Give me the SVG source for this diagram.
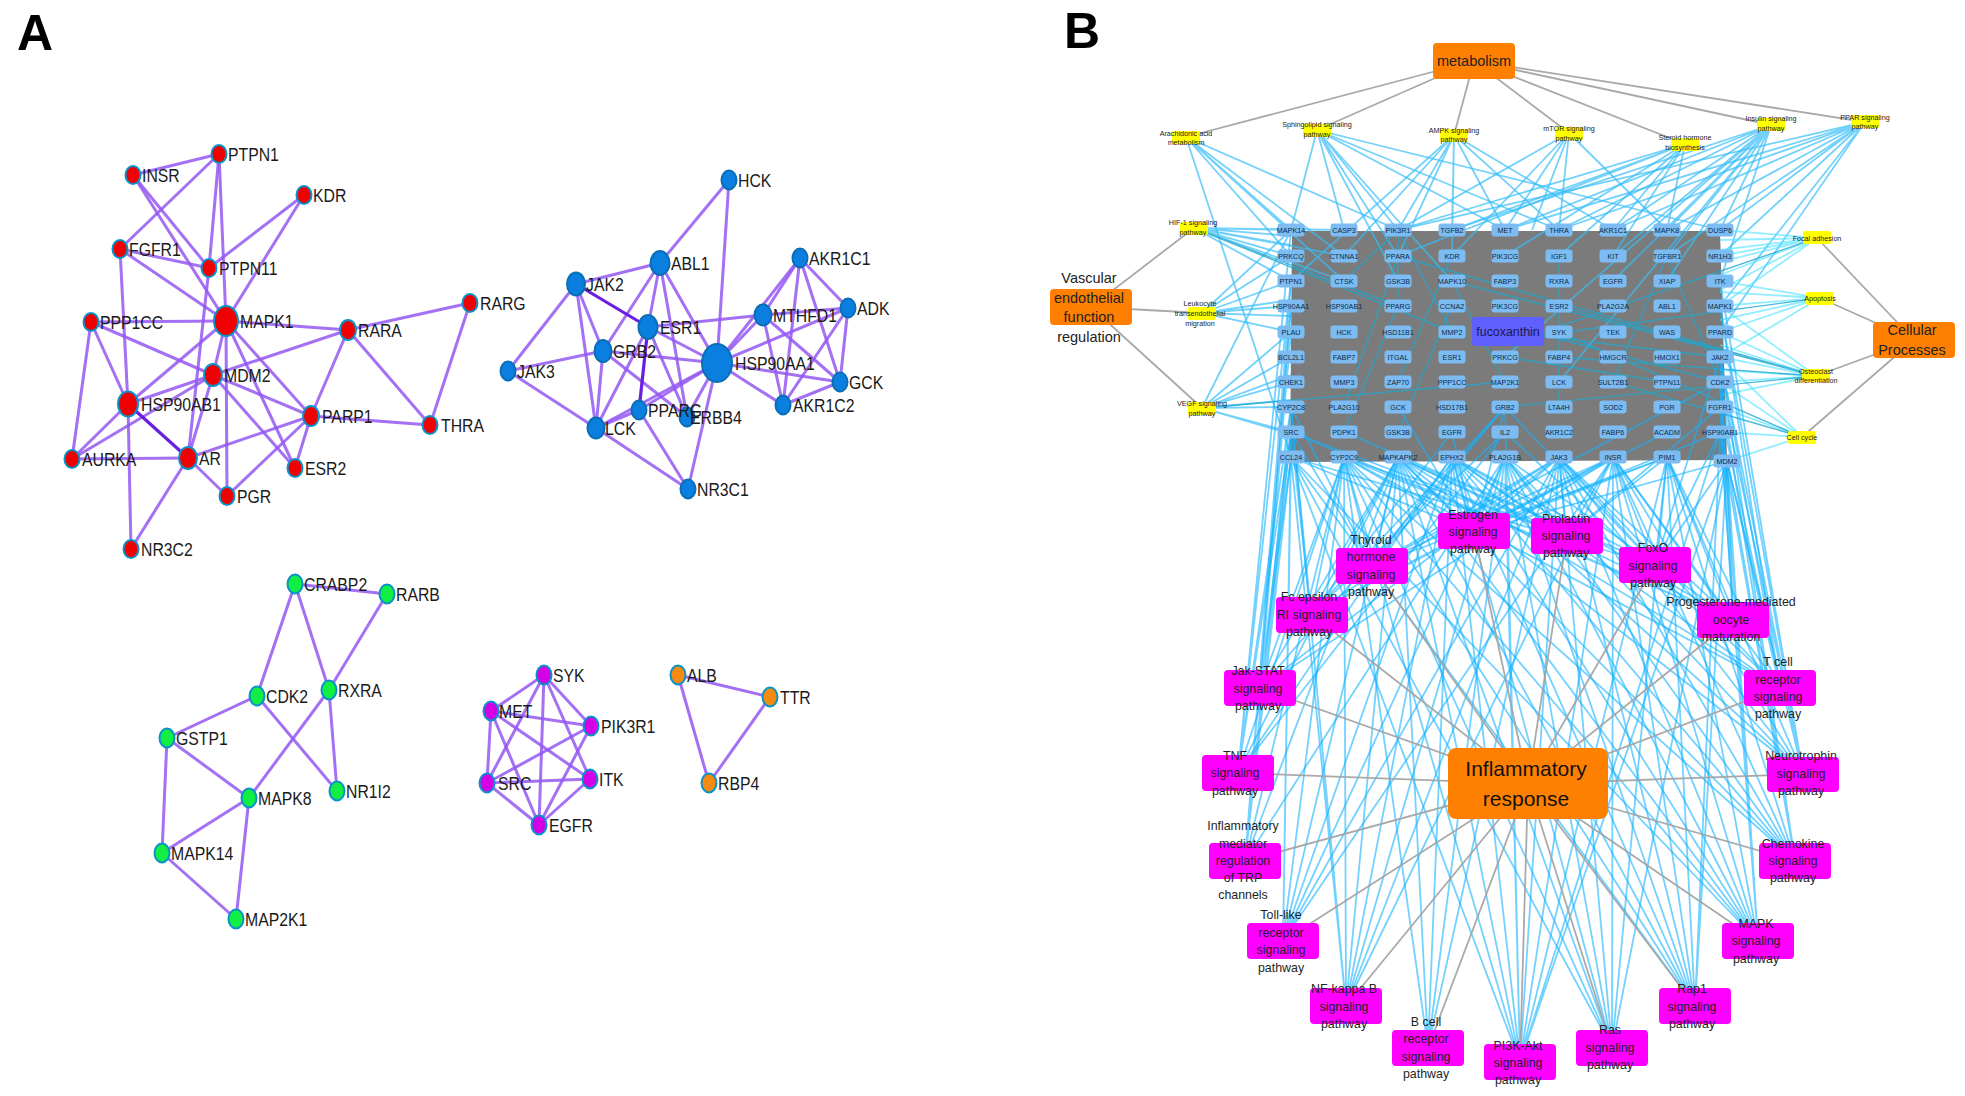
<svg xmlns="http://www.w3.org/2000/svg" width="1965" height="1096" viewBox="0 0 1965 1096">
<style>
text{font-family:"Liberation Sans",Arial,sans-serif;dominant-baseline:central;fill:#1a1a1a}
.panel{font-size:50px;font-weight:bold;fill:#000;dominant-baseline:auto}
#edgesA line{stroke:#9457f2;stroke-width:3;stroke-opacity:.85}
#edgesA line.d{stroke:#6a1fe0;stroke-width:3.2;stroke-opacity:1}
.an ellipse{stroke:#0a93c8;stroke-width:2}
.an text{font-size:15.8px;transform:scale(1,1.2)}
.r ellipse{fill:#f00000}.b ellipse{fill:#0a7fe0;stroke:#0a6fb5}.v ellipse{fill:#12ee44}.m ellipse{fill:#d400e6}.o ellipse{fill:#f58a10}
#edgesB path{fill:none;stroke-width:1.8}
#edgesB path.in{stroke-width:1.4}
.lb{stroke:#14b2ff;stroke-opacity:.6}
.tp{stroke:#38bdf8;stroke-opacity:.7}
.cy{stroke:#4fe3ff;stroke-opacity:.62}
.in{stroke:#1fa8d0;stroke-opacity:.8}
.gy{stroke:#a4a4a4;stroke-opacity:.95}
.gene rect{fill:#7cbcf2}
.gene text{font-size:7.2px;text-anchor:middle;fill:#0f2a44}
.yl rect{fill:#ffff00}
.yl text{font-size:7.2px;text-anchor:middle;fill:#222}
.pw rect{fill:#ff00ff}
.pw text{font-size:12.4px;text-anchor:middle;fill:#1f1f1f}
.hub rect{fill:#ff8000}
.hub text{font-size:14.5px;text-anchor:middle;fill:#222}
</style>
<rect width="1965" height="1096" fill="#fff"/>
<text class="panel" x="17" y="50">A</text>
<text class="panel" x="1064" y="48">B</text>

<g id="edgesA">
<line x1="219" y1="154" x2="133" y2="175"/><line x1="219" y1="154" x2="120" y2="249"/><line x1="219" y1="154" x2="209" y2="268"/><line x1="219" y1="154" x2="226" y2="321"/>
<line x1="133" y1="175" x2="209" y2="268"/><line x1="133" y1="175" x2="226" y2="321"/><line x1="304" y1="195" x2="209" y2="268"/><line x1="304" y1="195" x2="226" y2="321"/>
<line x1="120" y1="249" x2="209" y2="268"/><line x1="120" y1="249" x2="226" y2="321"/><line x1="120" y1="249" x2="128" y2="404"/><line x1="209" y1="268" x2="188" y2="458"/>
<line x1="91" y1="322" x2="226" y2="321"/><line x1="91" y1="322" x2="213" y2="375"/><line x1="91" y1="322" x2="128" y2="404"/><line x1="91" y1="322" x2="72" y2="459"/>
<line x1="226" y1="321" x2="348" y2="330"/><line x1="226" y1="321" x2="213" y2="375"/><line x1="226" y1="321" x2="128" y2="404"/><line x1="226" y1="321" x2="311" y2="416"/><line x1="226" y1="321" x2="295" y2="468"/><line x1="226" y1="321" x2="227" y2="496"/>
<line x1="213" y1="375" x2="348" y2="330"/><line x1="213" y1="375" x2="128" y2="404"/><line x1="213" y1="375" x2="311" y2="416"/><line x1="213" y1="375" x2="295" y2="468"/><line x1="213" y1="375" x2="188" y2="458"/><line x1="213" y1="375" x2="72" y2="459"/>
<line x1="128" y1="404" x2="72" y2="459"/><line class="d" x1="128" y1="404" x2="188" y2="458"/><line x1="128" y1="404" x2="131" y2="549"/>
<line x1="72" y1="459" x2="188" y2="458"/><line x1="188" y1="458" x2="311" y2="416"/><line x1="188" y1="458" x2="227" y2="496"/><line x1="188" y1="458" x2="131" y2="549"/>
<line x1="311" y1="416" x2="348" y2="330"/><line x1="311" y1="416" x2="430" y2="425"/><line x1="311" y1="416" x2="295" y2="468"/><line x1="311" y1="416" x2="227" y2="496"/>
<line x1="348" y1="330" x2="470" y2="303"/><line x1="348" y1="330" x2="430" y2="425"/><line x1="470" y1="303" x2="430" y2="425"/>

<line x1="729" y1="180" x2="660" y2="263"/><line x1="729" y1="180" x2="717" y2="363"/><line x1="660" y1="263" x2="576" y2="284"/><line x1="660" y1="263" x2="648" y2="327"/><line x1="660" y1="263" x2="603" y2="351"/><line x1="660" y1="263" x2="717" y2="363"/><line x1="660" y1="263" x2="687" y2="417"/>
<line class="d" x1="576" y1="284" x2="648" y2="327"/><line x1="576" y1="284" x2="603" y2="351"/><line x1="576" y1="284" x2="508" y2="371"/><line x1="576" y1="284" x2="596" y2="428"/>
<line x1="603" y1="351" x2="508" y2="371"/><line x1="603" y1="351" x2="596" y2="428"/><line x1="603" y1="351" x2="717" y2="363"/><line x1="603" y1="351" x2="687" y2="417"/><line x1="508" y1="371" x2="596" y2="428"/>
<line x1="648" y1="327" x2="717" y2="363"/><line x1="648" y1="327" x2="763" y2="315"/><line class="d" x1="648" y1="327" x2="639" y2="410"/><line x1="648" y1="327" x2="596" y2="428"/><line x1="648" y1="327" x2="687" y2="417"/>
<line x1="717" y1="363" x2="639" y2="410"/><line x1="717" y1="363" x2="596" y2="428"/><line x1="717" y1="363" x2="687" y2="417"/><line x1="717" y1="363" x2="688" y2="489"/><line x1="717" y1="363" x2="763" y2="315"/><line x1="717" y1="363" x2="800" y2="258"/><line x1="717" y1="363" x2="848" y2="308"/><line x1="717" y1="363" x2="840" y2="382"/><line x1="717" y1="363" x2="783" y2="405"/>
<line x1="596" y1="428" x2="639" y2="410"/><line x1="596" y1="428" x2="688" y2="489"/><line x1="639" y1="410" x2="688" y2="489"/>
<line x1="800" y1="258" x2="763" y2="315"/><line x1="800" y1="258" x2="848" y2="308"/><line x1="800" y1="258" x2="840" y2="382"/><line x1="800" y1="258" x2="783" y2="405"/><line x1="763" y1="315" x2="848" y2="308"/><line x1="763" y1="315" x2="840" y2="382"/><line x1="763" y1="315" x2="783" y2="405"/><line x1="848" y1="308" x2="840" y2="382"/><line x1="848" y1="308" x2="783" y2="405"/><line x1="840" y1="382" x2="783" y2="405"/>

<line x1="295" y1="584" x2="387" y2="594"/><line x1="295" y1="584" x2="257" y2="696"/><line x1="295" y1="584" x2="329" y2="690"/><line x1="387" y1="594" x2="329" y2="690"/><line x1="257" y1="696" x2="167" y2="738"/><line x1="257" y1="696" x2="337" y2="791"/><line x1="329" y1="690" x2="337" y2="791"/><line x1="329" y1="690" x2="249" y2="798"/><line x1="167" y1="738" x2="249" y2="798"/><line x1="167" y1="738" x2="162" y2="853"/><line x1="249" y1="798" x2="162" y2="853"/><line x1="249" y1="798" x2="236" y2="919"/><line x1="162" y1="853" x2="236" y2="919"/>
<line x1="544" y1="675" x2="491" y2="711"/><line x1="544" y1="675" x2="591" y2="726"/><line x1="544" y1="675" x2="487" y2="783"/><line x1="544" y1="675" x2="590" y2="779"/><line x1="544" y1="675" x2="539" y2="825"/><line x1="491" y1="711" x2="591" y2="726"/><line x1="491" y1="711" x2="487" y2="783"/><line x1="491" y1="711" x2="590" y2="779"/><line x1="491" y1="711" x2="539" y2="825"/><line x1="591" y1="726" x2="487" y2="783"/><line x1="591" y1="726" x2="539" y2="825"/><line x1="487" y1="783" x2="590" y2="779"/><line x1="487" y1="783" x2="539" y2="825"/><line x1="590" y1="779" x2="539" y2="825"/>
<line x1="678" y1="675" x2="770" y2="697"/><line x1="678" y1="675" x2="709" y2="783"/><line x1="770" y1="697" x2="709" y2="783"/>
</g>

<g id="nodesA">
<g id="a-PTPN1" class="an r" transform="translate(219 154)"><ellipse rx="7.5" ry="9"/><text x="9">PTPN1</text></g>
<g id="a-INSR" class="an r" transform="translate(133 175)"><ellipse rx="7.5" ry="9"/><text x="9">INSR</text></g>
<g id="a-KDR" class="an r" transform="translate(304 195)"><ellipse rx="7.5" ry="9"/><text x="9">KDR</text></g>
<g id="a-FGFR1" class="an r" transform="translate(120 249)"><ellipse rx="7.5" ry="9"/><text x="9">FGFR1</text></g>
<g id="a-PTPN11" class="an r" transform="translate(209 268)"><ellipse rx="7.5" ry="9"/><text x="10">PTPN11</text></g>
<g id="a-MAPK1" class="an r" transform="translate(226 321)"><ellipse rx="12" ry="15"/><text x="14">MAPK1</text></g>
<g id="a-PPP1CC" class="an r" transform="translate(91 322)"><ellipse rx="7.5" ry="9"/><text x="9">PPP1CC</text></g>
<g id="a-RARA" class="an r" transform="translate(348 330)"><ellipse rx="8" ry="10"/><text x="10">RARA</text></g>
<g id="a-RARG" class="an r" transform="translate(470 303)"><ellipse rx="7.5" ry="9"/><text x="10">RARG</text></g>
<g id="a-MDM2" class="an r" transform="translate(213 375)"><ellipse rx="9" ry="11"/><text x="11">MDM2</text></g>
<g id="a-HSP90AB1" class="an r" transform="translate(128 404)"><ellipse rx="10" ry="12.5"/><text x="13">HSP90AB1</text></g>
<g id="a-PARP1" class="an r" transform="translate(311 416)"><ellipse rx="8" ry="10"/><text x="11">PARP1</text></g>
<g id="a-THRA" class="an r" transform="translate(430 425)"><ellipse rx="7.5" ry="9"/><text x="11">THRA</text></g>
<g id="a-AURKA" class="an r" transform="translate(72 459)"><ellipse rx="7.5" ry="9"/><text x="10">AURKA</text></g>
<g id="a-AR" class="an r" transform="translate(188 458)"><ellipse rx="9" ry="11"/><text x="11">AR</text></g>
<g id="a-ESR2" class="an r" transform="translate(295 468)"><ellipse rx="7.5" ry="9"/><text x="10">ESR2</text></g>
<g id="a-PGR" class="an r" transform="translate(227 496)"><ellipse rx="7.5" ry="9"/><text x="10">PGR</text></g>
<g id="a-NR3C2" class="an r" transform="translate(131 549)"><ellipse rx="7.5" ry="9"/><text x="10">NR3C2</text></g>

<g id="a-HCK" class="an b" transform="translate(729 180)"><ellipse rx="7.5" ry="9.5"/><text x="9">HCK</text></g>
<g id="a-ABL1" class="an b" transform="translate(660 263)"><ellipse rx="9.5" ry="12"/><text x="11">ABL1</text></g>
<g id="a-JAK2" class="an b" transform="translate(576 284)"><ellipse rx="9" ry="11.5"/><text x="10">JAK2</text></g>
<g id="a-AKR1C1" class="an b" transform="translate(800 258)"><ellipse rx="7.5" ry="9.5"/><text x="9">AKR1C1</text></g>
<g id="a-ADK" class="an b" transform="translate(848 308)"><ellipse rx="7.5" ry="9.5"/><text x="9">ADK</text></g>
<g id="a-MTHFD1" class="an b" transform="translate(763 315)"><ellipse rx="8.5" ry="10.5"/><text x="10">MTHFD1</text></g>
<g id="a-ESR1" class="an b" transform="translate(648 327)"><ellipse rx="9.5" ry="12"/><text x="12">ESR1</text></g>
<g id="a-GRB2" class="an b" transform="translate(603 351)"><ellipse rx="8.5" ry="11"/><text x="10">GRB2</text></g>
<g id="a-JAK3" class="an b" transform="translate(508 371)"><ellipse rx="7.5" ry="9.5"/><text x="9">JAK3</text></g>
<g id="a-HSP90AA1" class="an b" transform="translate(717 363)"><ellipse rx="15" ry="19"/><text x="18">HSP90AA1</text></g>
<g id="a-ERBB4" class="an b" transform="translate(687 417)"><ellipse rx="7.5" ry="9.5"/><text x="3">ERBB4</text></g>
<g id="a-PPARG" class="an b" transform="translate(639 410)"><ellipse rx="7.5" ry="9.5"/><text x="9">PPARG</text></g>
<g id="a-LCK" class="an b" transform="translate(596 428)"><ellipse rx="8.5" ry="10.5"/><text x="9">LCK</text></g>
<g id="a-AKR1C2" class="an b" transform="translate(783 405)"><ellipse rx="7.5" ry="9.5"/><text x="10">AKR1C2</text></g>
<g id="a-GCK" class="an b" transform="translate(840 382)"><ellipse rx="7.5" ry="9.5"/><text x="9">GCK</text></g>
<g id="a-NR3C1" class="an b" transform="translate(688 489)"><ellipse rx="7.5" ry="9.5"/><text x="9">NR3C1</text></g>

<g id="a-CRABP2" class="an v" transform="translate(295 584)"><ellipse rx="7.5" ry="9.5"/><text x="9">CRABP2</text></g>
<g id="a-RARB" class="an v" transform="translate(387 594)"><ellipse rx="7.5" ry="9.5"/><text x="9">RARB</text></g>
<g id="a-CDK2" class="an v" transform="translate(257 696)"><ellipse rx="7.5" ry="9.5"/><text x="9">CDK2</text></g>
<g id="a-RXRA" class="an v" transform="translate(329 690)"><ellipse rx="7.5" ry="9.5"/><text x="9">RXRA</text></g>
<g id="a-GSTP1" class="an v" transform="translate(167 738)"><ellipse rx="7.5" ry="9.5"/><text x="9">GSTP1</text></g>
<g id="a-MAPK8" class="an v" transform="translate(249 798)"><ellipse rx="7.5" ry="9.5"/><text x="9">MAPK8</text></g>
<g id="a-NR1I2" class="an v" transform="translate(337 791)"><ellipse rx="7.5" ry="9.5"/><text x="9">NR1I2</text></g>
<g id="a-MAPK14" class="an v" transform="translate(162 853)"><ellipse rx="7.5" ry="9.5"/><text x="9">MAPK14</text></g>
<g id="a-MAP2K1" class="an v" transform="translate(236 919)"><ellipse rx="7.5" ry="9.5"/><text x="9">MAP2K1</text></g>

<g id="a-SYK" class="an m" transform="translate(544 675)"><ellipse rx="7.5" ry="9.5"/><text x="9">SYK</text></g>
<g id="a-MET" class="an m" transform="translate(491 711)"><ellipse rx="7.5" ry="9.5"/><text x="8">MET</text></g>
<g id="a-PIK3R1" class="an m" transform="translate(591 726)"><ellipse rx="7.5" ry="9.5"/><text x="10">PIK3R1</text></g>
<g id="a-SRC" class="an m" transform="translate(487 783)"><ellipse rx="7.5" ry="9.5"/><text x="11">SRC</text></g>
<g id="a-ITK" class="an m" transform="translate(590 779)"><ellipse rx="7.5" ry="9.5"/><text x="9">ITK</text></g>
<g id="a-EGFR" class="an m" transform="translate(539 825)"><ellipse rx="7.5" ry="9.5"/><text x="10">EGFR</text></g>
<g id="a-ALB" class="an o" transform="translate(678 675)"><ellipse rx="7.5" ry="9.5"/><text x="9">ALB</text></g>
<g id="a-TTR" class="an o" transform="translate(770 697)"><ellipse rx="7.5" ry="9.5"/><text x="10">TTR</text></g>
<g id="a-RBP4" class="an o" transform="translate(709 783)"><ellipse rx="7.5" ry="9.5"/><text x="9">RBP4</text></g>
</g>

<polygon id="gene-block" points="1292,231 1720,231 1727,460 1290,462" fill="#7b7b7b"/>

<g id="edgesB">
<path class="tp" d="M1186 137L1291 230M1186 137L1291 256M1186 137L1291 457M1186 137L1344 256M1186 137L1344 281M1186 137L1398 230"/>
<path class="tp" d="M1317 130L1291 230M1317 130L1344 230M1317 130L1398 230M1317 130L1398 256M1317 130L1398 281M1317 130L1452 281M1317 130L1505 230M1317 130L1559 230M1317 130L1720 230"/>
<path class="tp" d="M1454 135L1398 230M1454 135L1398 256M1454 135L1452 230M1454 135L1452 256M1454 135L1505 230M1454 135L1559 230M1454 135L1613 230M1454 135L1344 256M1454 135L1291 281"/>
<path class="tp" d="M1569 133L1398 230M1569 133L1505 230M1569 133L1532 230M1569 133L1559 230M1569 133L1667 230M1569 133L1452 256"/>
<path class="tp" d="M1685 144L1398 230M1685 144L1452 230M1685 144L1505 256M1685 144L1613 230M1685 144L1613 256M1685 144L1667 230M1685 144L1559 256M1685 144L1398 256"/>
<path class="tp" d="M1771 125L1505 230M1771 125L1559 230M1771 125L1613 230M1771 125L1613 256M1771 125L1667 230M1771 125L1667 256M1771 125L1667 281M1771 125L1720 230M1771 125L1720 281M1771 125L1613 281M1771 125L1452 230M1771 125L1559 382M1771 125L1505 357"/>
<path class="tp" d="M1865 122L1398 230M1865 122L1559 230M1865 122L1613 230M1865 122L1667 230M1865 122L1720 230M1865 122L1720 256M1865 122L1720 306M1865 122L1720 332M1865 122L1667 256M1865 122L1505 230"/>
<path class="cy" d="M1817 238L1720 230M1817 238L1720 240M1817 238L1720 250M1817 238L1720 256M1817 238L1720 262M1817 238L1720 275M1817 238L1720 290M1817 238L1720 306"/>
<path class="cy" d="M1820 298L1720 281M1820 298L1720 292M1820 298L1720 306M1820 298L1720 320M1820 298L1720 332M1820 298L1720 357"/>
<path class="cy" d="M1816 376L1720 306M1816 376L1720 332M1816 376L1720 345M1816 376L1720 357M1816 376L1720 370M1816 376L1720 382M1816 376L1720 395"/>
<path class="cy" d="M1802 437L1720 357M1802 437L1720 382M1802 437L1720 407M1802 437L1720 432M1802 437L1727 461"/>
<path class="tp" d="M1194 228L1291 230M1194 228L1291 236M1194 228L1291 245M1194 228L1291 256M1194 228L1291 281M1194 228L1344 281M1194 228L1344 256M1194 228L1344 230"/>
<path class="tp" d="M1202 313L1291 230M1202 313L1291 256M1202 313L1291 281M1202 313L1291 300M1202 313L1291 306M1202 313L1291 316M1202 313L1291 332"/>
<path class="tp" d="M1202 408L1291 230M1202 408L1291 332M1202 408L1291 357M1202 408L1291 375M1202 408L1291 382M1202 408L1291 400M1202 408L1291 407M1202 408L1291 432M1202 408L1291 434"/>
<path class="in" d="M1202 408L1505 382M1816 376L1505 407M1816 376L1398 256M1816 376L1452 281M1816 376L1559 306M1816 376L1559 357M1802 437L1559 332M1802 437L1613 382M1820 298L1544 335M1817 238L1505 345M1194 228L1452 332M1194 228L1398 306M1505 332L1720 357M1544 335L1720 382M1505 357L1667 382M1398 230L1344 281M1398 230L1398 306M1398 230L1452 332M1398 256L1344 407M1452 256L1398 382M1452 281L1505 382M1667 256L1613 382M1667 256L1720 382M1559 256L1559 407M1398 306L1344 432M1452 306L1398 432"/>
<path class="lb" d="M1474 532L1291 457M1474 532L1344 457M1474 532L1398 457M1474 532L1452 457M1474 532L1505 457M1474 532L1559 457M1474 532L1613 457M1474 532L1667 457M1474 532L1720 432M1474 532L1505 407M1474 532L1398 407M1474 532L1452 432M1474 532L1727 461"/>
<path class="lb" d="M1567 536L1344 457M1567 536L1398 457M1567 536L1452 457M1567 536L1505 457M1567 536L1559 457M1567 536L1613 457M1567 536L1667 457M1567 536L1720 407M1567 536L1291 432"/>
<path class="lb" d="M1372 566L1291 407M1372 566L1344 457M1372 566L1398 457M1372 566L1452 457M1372 566L1505 407M1372 566L1559 457M1372 566L1613 457M1372 566L1667 457M1372 566L1720 382M1372 566L1291 432"/>
<path class="lb" d="M1655 565L1291 457M1655 565L1344 432M1655 565L1398 457M1655 565L1452 457M1655 565L1505 407M1655 565L1559 457M1655 565L1613 457M1655 565L1667 457M1655 565L1720 432M1655 565L1727 461M1655 565L1720 357"/>
<path class="lb" d="M1311 614L1291 407M1311 614L1291 432M1311 614L1344 457M1311 614L1398 457M1311 614L1452 432M1311 614L1505 407M1311 614L1505 432M1311 614L1559 457M1311 614L1613 457M1311 614L1667 432"/>
<path class="lb" d="M1733 620L1720 357M1733 620L1720 382M1733 620L1720 407M1733 620L1727 461M1733 620L1667 457M1733 620L1613 457M1733 620L1559 457M1733 620L1505 457M1733 620L1452 457M1733 620L1398 457M1733 620L1344 457M1733 620L1291 432"/>
<path class="lb" d="M1260 688L1291 306M1260 688L1291 332M1260 688L1291 432M1260 688L1291 457M1260 688L1344 457M1260 688L1398 457M1260 688L1505 407M1260 688L1559 457M1260 688L1613 457"/>
<path class="lb" d="M1780 688L1720 306M1780 688L1720 407M1780 688L1727 461M1780 688L1667 457M1780 688L1613 457M1780 688L1559 457M1780 688L1505 432M1780 688L1452 457M1780 688L1398 457M1780 688L1344 457M1780 688L1720 357"/>
<path class="lb" d="M1238 773L1291 230M1238 773L1291 281M1238 773L1291 407M1238 773L1291 432M1238 773L1344 457M1238 773L1398 457M1238 773L1452 457M1238 773L1505 432"/>
<path class="lb" d="M1803 774L1720 281M1803 774L1720 306M1803 774L1720 357M1803 774L1720 382M1803 774L1727 461M1803 774L1667 457M1803 774L1613 457M1803 774L1559 457M1803 774L1505 457M1803 774L1452 457M1803 774L1398 457"/>
<path class="lb" d="M1245 861L1291 281M1245 861L1291 306M1245 861L1291 407M1245 861L1291 432M1245 861L1291 457M1245 861L1344 457M1245 861L1398 457M1245 861L1505 457"/>
<path class="lb" d="M1795 861L1720 357M1795 861L1720 382M1795 861L1720 432M1795 861L1727 461M1795 861L1667 457M1795 861L1613 457M1795 861L1559 457M1795 861L1505 457M1795 861L1452 457M1795 861L1398 457M1795 861L1344 457"/>
<path class="lb" d="M1283 941L1291 457M1283 941L1291 432M1283 941L1344 457M1283 941L1398 457M1283 941L1452 457M1283 941L1505 457M1283 941L1559 457M1283 941L1613 457"/>
<path class="lb" d="M1758 941L1720 382M1758 941L1727 461M1758 941L1667 457M1758 941L1613 457M1758 941L1559 457M1758 941L1505 457M1758 941L1452 457M1758 941L1398 457M1758 941L1344 457M1758 941L1291 457M1758 941L1720 432"/>
<path class="lb" d="M1346 1006L1291 407M1346 1006L1291 457M1346 1006L1344 457M1346 1006L1398 457M1346 1006L1452 457M1346 1006L1505 457M1346 1006L1559 457M1346 1006L1613 457"/>
<path class="lb" d="M1695 1006L1720 432M1695 1006L1667 457M1695 1006L1613 457M1695 1006L1559 457M1695 1006L1505 457M1695 1006L1452 457M1695 1006L1398 457M1695 1006L1344 457M1695 1006L1291 457M1695 1006L1727 461"/>
<path class="lb" d="M1428 1048L1344 457M1428 1048L1398 457M1428 1048L1452 457M1428 1048L1505 457M1428 1048L1559 457"/>
<path class="lb" d="M1612 1048L1291 457M1612 1048L1344 457M1612 1048L1398 457M1612 1048L1452 457M1612 1048L1505 457M1612 1048L1559 457M1612 1048L1613 457M1612 1048L1667 457M1612 1048L1727 461"/>
<path class="lb" d="M1520 1062L1291 457M1520 1062L1344 457M1520 1062L1398 457M1520 1062L1452 457M1520 1062L1505 457M1520 1062L1505 407M1520 1062L1559 457M1520 1062L1613 457M1520 1062L1667 457M1520 1062L1727 461M1520 1062L1720 432"/>
<path class="gy" d="M1474 61L1186 137M1474 61L1317 130M1474 61L1454 135M1474 61L1569 133M1474 61L1685 144M1474 61L1771 125M1474 61L1865 122"/>
<path class="gy" d="M1091 307L1194 228M1091 307L1202 313M1091 307L1202 408M1914 340L1817 238M1914 340L1820 298M1914 340L1816 376M1914 340L1802 437"/>
<path class="gy" d="M1528 784L1372 566M1528 784L1474 532M1528 784L1567 536M1528 784L1655 565M1528 784L1311 614M1528 784L1733 620M1528 784L1260 688M1528 784L1780 688M1528 784L1238 773M1528 784L1803 774M1528 784L1245 861M1528 784L1795 861M1528 784L1283 941M1528 784L1758 941M1528 784L1346 1006M1528 784L1695 1006M1528 784L1428 1048M1528 784L1612 1048M1528 784L1520 1062"/>
</g>

<g id="genes">
<g id="g-r1c1" class="gene" transform="translate(1291 230)"><rect x="-13.5" y="-6.5" width="27" height="13" rx="3"/><text>MAPK14</text></g>
<g id="g-r1c2" class="gene" transform="translate(1344 230)"><rect x="-13.5" y="-6.5" width="27" height="13" rx="3"/><text>CASP3</text></g>
<g id="g-r1c3" class="gene" transform="translate(1398 230)"><rect x="-13.5" y="-6.5" width="27" height="13" rx="3"/><text>PIK3R1</text></g>
<g id="g-r1c4" class="gene" transform="translate(1452 230)"><rect x="-13.5" y="-6.5" width="27" height="13" rx="3"/><text>TGFB2</text></g>
<g id="g-r1c5" class="gene" transform="translate(1505 230)"><rect x="-13.5" y="-6.5" width="27" height="13" rx="3"/><text>MET</text></g>
<g id="g-r1c6" class="gene" transform="translate(1559 230)"><rect x="-13.5" y="-6.5" width="27" height="13" rx="3"/><text>THRA</text></g>
<g id="g-r1c7" class="gene" transform="translate(1613 230)"><rect x="-13.5" y="-6.5" width="27" height="13" rx="3"/><text>AKR1C1</text></g>
<g id="g-r1c8" class="gene" transform="translate(1667 230)"><rect x="-13.5" y="-6.5" width="27" height="13" rx="3"/><text>MAPK8</text></g>
<g id="g-r1c9" class="gene" transform="translate(1720 230)"><rect x="-13.5" y="-6.5" width="27" height="13" rx="3"/><text>DUSP6</text></g>
<g id="g-r2c1" class="gene" transform="translate(1291 256)"><rect x="-13.5" y="-6.5" width="27" height="13" rx="3"/><text>PRKCQ</text></g>
<g id="g-r2c2" class="gene" transform="translate(1344 256)"><rect x="-13.5" y="-6.5" width="27" height="13" rx="3"/><text>CTNNA1</text></g>
<g id="g-r2c3" class="gene" transform="translate(1398 256)"><rect x="-13.5" y="-6.5" width="27" height="13" rx="3"/><text>PPARA</text></g>
<g id="g-r2c4" class="gene" transform="translate(1452 256)"><rect x="-13.5" y="-6.5" width="27" height="13" rx="3"/><text>KDR</text></g>
<g id="g-r2c5" class="gene" transform="translate(1505 256)"><rect x="-13.5" y="-6.5" width="27" height="13" rx="3"/><text>PIK3CG</text></g>
<g id="g-r2c6" class="gene" transform="translate(1559 256)"><rect x="-13.5" y="-6.5" width="27" height="13" rx="3"/><text>IGF1</text></g>
<g id="g-r2c7" class="gene" transform="translate(1613 256)"><rect x="-13.5" y="-6.5" width="27" height="13" rx="3"/><text>KIT</text></g>
<g id="g-r2c8" class="gene" transform="translate(1667 256)"><rect x="-13.5" y="-6.5" width="27" height="13" rx="3"/><text>TGFBR1</text></g>
<g id="g-r2c9" class="gene" transform="translate(1720 256)"><rect x="-13.5" y="-6.5" width="27" height="13" rx="3"/><text>NR1H3</text></g>
<g id="g-r3c1" class="gene" transform="translate(1291 281)"><rect x="-13.5" y="-6.5" width="27" height="13" rx="3"/><text>PTPN1</text></g>
<g id="g-r3c2" class="gene" transform="translate(1344 281)"><rect x="-13.5" y="-6.5" width="27" height="13" rx="3"/><text>CTSK</text></g>
<g id="g-r3c3" class="gene" transform="translate(1398 281)"><rect x="-13.5" y="-6.5" width="27" height="13" rx="3"/><text>GSK3B</text></g>
<g id="g-r3c4" class="gene" transform="translate(1452 281)"><rect x="-13.5" y="-6.5" width="27" height="13" rx="3"/><text>MAPK10</text></g>
<g id="g-r3c5" class="gene" transform="translate(1505 281)"><rect x="-13.5" y="-6.5" width="27" height="13" rx="3"/><text>FABP3</text></g>
<g id="g-r3c6" class="gene" transform="translate(1559 281)"><rect x="-13.5" y="-6.5" width="27" height="13" rx="3"/><text>RXRA</text></g>
<g id="g-r3c7" class="gene" transform="translate(1613 281)"><rect x="-13.5" y="-6.5" width="27" height="13" rx="3"/><text>EGFR</text></g>
<g id="g-r3c8" class="gene" transform="translate(1667 281)"><rect x="-13.5" y="-6.5" width="27" height="13" rx="3"/><text>XIAP</text></g>
<g id="g-r3c9" class="gene" transform="translate(1720 281)"><rect x="-13.5" y="-6.5" width="27" height="13" rx="3"/><text>ITK</text></g>
<g id="g-r4c1" class="gene" transform="translate(1291 306)"><rect x="-13.5" y="-6.5" width="27" height="13" rx="3"/><text>HSP90AA1</text></g>
<g id="g-r4c2" class="gene" transform="translate(1344 306)"><rect x="-13.5" y="-6.5" width="27" height="13" rx="3"/><text>HSP90AB1</text></g>
<g id="g-r4c3" class="gene" transform="translate(1398 306)"><rect x="-13.5" y="-6.5" width="27" height="13" rx="3"/><text>PPARG</text></g>
<g id="g-r4c4" class="gene" transform="translate(1452 306)"><rect x="-13.5" y="-6.5" width="27" height="13" rx="3"/><text>CCNA2</text></g>
<g id="g-r4c5" class="gene" transform="translate(1505 306)"><rect x="-13.5" y="-6.5" width="27" height="13" rx="3"/><text>PIK3CG</text></g>
<g id="g-r4c6" class="gene" transform="translate(1559 306)"><rect x="-13.5" y="-6.5" width="27" height="13" rx="3"/><text>ESR2</text></g>
<g id="g-r4c7" class="gene" transform="translate(1613 306)"><rect x="-13.5" y="-6.5" width="27" height="13" rx="3"/><text>PLA2G2A</text></g>
<g id="g-r4c8" class="gene" transform="translate(1667 306)"><rect x="-13.5" y="-6.5" width="27" height="13" rx="3"/><text>ABL1</text></g>
<g id="g-r4c9" class="gene" transform="translate(1720 306)"><rect x="-13.5" y="-6.5" width="27" height="13" rx="3"/><text>MAPK1</text></g>
<g id="g-r5c1" class="gene" transform="translate(1291 332)"><rect x="-13.5" y="-6.5" width="27" height="13" rx="3"/><text>PLAU</text></g>
<g id="g-r5c2" class="gene" transform="translate(1344 332)"><rect x="-13.5" y="-6.5" width="27" height="13" rx="3"/><text>HCK</text></g>
<g id="g-r5c3" class="gene" transform="translate(1398 332)"><rect x="-13.5" y="-6.5" width="27" height="13" rx="3"/><text>HSD11B1</text></g>
<g id="g-r5c4" class="gene" transform="translate(1452 332)"><rect x="-13.5" y="-6.5" width="27" height="13" rx="3"/><text>MMP2</text></g>
<g id="g-r5c6" class="gene" transform="translate(1559 332)"><rect x="-13.5" y="-6.5" width="27" height="13" rx="3"/><text>SYK</text></g>
<g id="g-r5c7" class="gene" transform="translate(1613 332)"><rect x="-13.5" y="-6.5" width="27" height="13" rx="3"/><text>TEK</text></g>
<g id="g-r5c8" class="gene" transform="translate(1667 332)"><rect x="-13.5" y="-6.5" width="27" height="13" rx="3"/><text>WAS</text></g>
<g id="g-r5c9" class="gene" transform="translate(1720 332)"><rect x="-13.5" y="-6.5" width="27" height="13" rx="3"/><text>PPARD</text></g>
<g id="g-r6c1" class="gene" transform="translate(1291 357)"><rect x="-13.5" y="-6.5" width="27" height="13" rx="3"/><text>BCL2L1</text></g>
<g id="g-r6c2" class="gene" transform="translate(1344 357)"><rect x="-13.5" y="-6.5" width="27" height="13" rx="3"/><text>FABP7</text></g>
<g id="g-r6c3" class="gene" transform="translate(1398 357)"><rect x="-13.5" y="-6.5" width="27" height="13" rx="3"/><text>ITGAL</text></g>
<g id="g-r6c4" class="gene" transform="translate(1452 357)"><rect x="-13.5" y="-6.5" width="27" height="13" rx="3"/><text>ESR1</text></g>
<g id="g-r6c5" class="gene" transform="translate(1505 357)"><rect x="-13.5" y="-6.5" width="27" height="13" rx="3"/><text>PRKCG</text></g>
<g id="g-r6c6" class="gene" transform="translate(1559 357)"><rect x="-13.5" y="-6.5" width="27" height="13" rx="3"/><text>FABP4</text></g>
<g id="g-r6c7" class="gene" transform="translate(1613 357)"><rect x="-13.5" y="-6.5" width="27" height="13" rx="3"/><text>HMGCR</text></g>
<g id="g-r6c8" class="gene" transform="translate(1667 357)"><rect x="-13.5" y="-6.5" width="27" height="13" rx="3"/><text>HMOX1</text></g>
<g id="g-r6c9" class="gene" transform="translate(1720 357)"><rect x="-13.5" y="-6.5" width="27" height="13" rx="3"/><text>JAK2</text></g>
<g id="g-r7c1" class="gene" transform="translate(1291 382)"><rect x="-13.5" y="-6.5" width="27" height="13" rx="3"/><text>CHEK1</text></g>
<g id="g-r7c2" class="gene" transform="translate(1344 382)"><rect x="-13.5" y="-6.5" width="27" height="13" rx="3"/><text>MMP3</text></g>
<g id="g-r7c3" class="gene" transform="translate(1398 382)"><rect x="-13.5" y="-6.5" width="27" height="13" rx="3"/><text>ZAP70</text></g>
<g id="g-r7c4" class="gene" transform="translate(1452 382)"><rect x="-13.5" y="-6.5" width="27" height="13" rx="3"/><text>PPP1CC</text></g>
<g id="g-r7c5" class="gene" transform="translate(1505 382)"><rect x="-13.5" y="-6.5" width="27" height="13" rx="3"/><text>MAP2K1</text></g>
<g id="g-r7c6" class="gene" transform="translate(1559 382)"><rect x="-13.5" y="-6.5" width="27" height="13" rx="3"/><text>LCK</text></g>
<g id="g-r7c7" class="gene" transform="translate(1613 382)"><rect x="-13.5" y="-6.5" width="27" height="13" rx="3"/><text>SULT2B1</text></g>
<g id="g-r7c8" class="gene" transform="translate(1667 382)"><rect x="-13.5" y="-6.5" width="27" height="13" rx="3"/><text>PTPN11</text></g>
<g id="g-r7c9" class="gene" transform="translate(1720 382)"><rect x="-13.5" y="-6.5" width="27" height="13" rx="3"/><text>CDK2</text></g>
<g id="g-r8c1" class="gene" transform="translate(1291 407)"><rect x="-13.5" y="-6.5" width="27" height="13" rx="3"/><text>CYP2C8</text></g>
<g id="g-r8c2" class="gene" transform="translate(1344 407)"><rect x="-13.5" y="-6.5" width="27" height="13" rx="3"/><text>PLA2G10</text></g>
<g id="g-r8c3" class="gene" transform="translate(1398 407)"><rect x="-13.5" y="-6.5" width="27" height="13" rx="3"/><text>GCK</text></g>
<g id="g-r8c4" class="gene" transform="translate(1452 407)"><rect x="-13.5" y="-6.5" width="27" height="13" rx="3"/><text>HSD17B1</text></g>
<g id="g-r8c5" class="gene" transform="translate(1505 407)"><rect x="-13.5" y="-6.5" width="27" height="13" rx="3"/><text>GRB2</text></g>
<g id="g-r8c6" class="gene" transform="translate(1559 407)"><rect x="-13.5" y="-6.5" width="27" height="13" rx="3"/><text>LTA4H</text></g>
<g id="g-r8c7" class="gene" transform="translate(1613 407)"><rect x="-13.5" y="-6.5" width="27" height="13" rx="3"/><text>SOD2</text></g>
<g id="g-r8c8" class="gene" transform="translate(1667 407)"><rect x="-13.5" y="-6.5" width="27" height="13" rx="3"/><text>PGR</text></g>
<g id="g-r8c9" class="gene" transform="translate(1720 407)"><rect x="-13.5" y="-6.5" width="27" height="13" rx="3"/><text>FGFR1</text></g>
<g id="g-r9c1" class="gene" transform="translate(1291 432)"><rect x="-13.5" y="-6.5" width="27" height="13" rx="3"/><text>SRC</text></g>
<g id="g-r9c2" class="gene" transform="translate(1344 432)"><rect x="-13.5" y="-6.5" width="27" height="13" rx="3"/><text>PDPK1</text></g>
<g id="g-r9c3" class="gene" transform="translate(1398 432)"><rect x="-13.5" y="-6.5" width="27" height="13" rx="3"/><text>GSK3B</text></g>
<g id="g-r9c4" class="gene" transform="translate(1452 432)"><rect x="-13.5" y="-6.5" width="27" height="13" rx="3"/><text>EGFR</text></g>
<g id="g-r9c5" class="gene" transform="translate(1505 432)"><rect x="-13.5" y="-6.5" width="27" height="13" rx="3"/><text>IL2</text></g>
<g id="g-r9c6" class="gene" transform="translate(1559 432)"><rect x="-13.5" y="-6.5" width="27" height="13" rx="3"/><text>AKR1C2</text></g>
<g id="g-r9c7" class="gene" transform="translate(1613 432)"><rect x="-13.5" y="-6.5" width="27" height="13" rx="3"/><text>FABP6</text></g>
<g id="g-r9c8" class="gene" transform="translate(1667 432)"><rect x="-13.5" y="-6.5" width="27" height="13" rx="3"/><text>ACADM</text></g>
<g id="g-r9c9" class="gene" transform="translate(1720 432)"><rect x="-13.5" y="-6.5" width="27" height="13" rx="3"/><text>HSP90AB1</text></g>
<g id="g-r10c1" class="gene" transform="translate(1291 457)"><rect x="-13.5" y="-6.5" width="27" height="13" rx="3"/><text>CCL24</text></g>
<g id="g-r10c2" class="gene" transform="translate(1344 457)"><rect x="-13.5" y="-6.5" width="27" height="13" rx="3"/><text>CYP2C9</text></g>
<g id="g-r10c3" class="gene" transform="translate(1398 457)"><rect x="-13.5" y="-6.5" width="27" height="13" rx="3"/><text>MAPKAPK2</text></g>
<g id="g-r10c4" class="gene" transform="translate(1452 457)"><rect x="-13.5" y="-6.5" width="27" height="13" rx="3"/><text>EPHX2</text></g>
<g id="g-r10c5" class="gene" transform="translate(1505 457)"><rect x="-13.5" y="-6.5" width="27" height="13" rx="3"/><text>PLA2G1B</text></g>
<g id="g-r10c6" class="gene" transform="translate(1559 457)"><rect x="-13.5" y="-6.5" width="27" height="13" rx="3"/><text>JAK3</text></g>
<g id="g-r10c7" class="gene" transform="translate(1613 457)"><rect x="-13.5" y="-6.5" width="27" height="13" rx="3"/><text>INSR</text></g>
<g id="g-r10c8" class="gene" transform="translate(1667 457)"><rect x="-13.5" y="-6.5" width="27" height="13" rx="3"/><text>PIM1</text></g>
<g id="g-mdm2" class="gene" transform="translate(1727 461)"><rect x="-13.5" y="-6.5" width="27" height="13" rx="3"/><text>MDM2</text></g>
</g>

<g id="fucoxanthin"><rect x="1472" y="317" width="72" height="29" rx="3" fill="#6060ff"/><text x="1508" y="332" font-size="12.4" text-anchor="middle" style="fill:#1a1a50">fucoxanthin</text></g>

<g id="y-arachidonic" class="yl"><rect x="1172" y="131" width="28" height="13" rx="2"/><text x="1186"><tspan x="1186" y="133">Arachidonic acid</tspan><tspan x="1186" y="142">metabolism</tspan></text></g>
<g id="y-sphingolipid" class="yl"><rect x="1303" y="124" width="28" height="13" rx="2"/><text><tspan x="1317" y="124">Sphingolipid signaling</tspan><tspan x="1317" y="134">pathway</tspan></text></g>
<g id="y-ampk" class="yl"><rect x="1440" y="129" width="28" height="13" rx="2"/><text><tspan x="1454" y="130">AMPK signaling</tspan><tspan x="1454" y="139">pathway</tspan></text></g>
<g id="y-mtor" class="yl"><rect x="1555" y="127" width="28" height="13" rx="2"/><text><tspan x="1569" y="128">mTOR signaling</tspan><tspan x="1569" y="138">pathway</tspan></text></g>
<g id="y-steroid" class="yl"><rect x="1671" y="138" width="28" height="13" rx="2"/><text><tspan x="1685" y="137">Steroid hormone</tspan><tspan x="1685" y="147">biosynthesis</tspan></text></g>
<g id="y-insulin" class="yl"><rect x="1757" y="118" width="28" height="13" rx="2"/><text><tspan x="1771" y="118">Insulin signaling</tspan><tspan x="1771" y="128">pathway</tspan></text></g>
<g id="y-ppar" class="yl"><rect x="1851" y="115" width="28" height="13" rx="2"/><text><tspan x="1865" y="117">PPAR signaling</tspan><tspan x="1865" y="126">pathway</tspan></text></g>
<g id="y-focal" class="yl"><rect x="1803" y="231" width="28" height="13" rx="2"/><text x="1817" y="238">Focal adhesion</text></g>
<g id="y-apoptosis" class="yl"><rect x="1806" y="292" width="28" height="13" rx="2"/><text x="1820" y="298">Apoptosis</text></g>
<g id="y-osteoclast" class="yl"><rect x="1802" y="369" width="28" height="13" rx="2"/><text><tspan x="1816" y="371">Osteoclast</tspan><tspan x="1816" y="380">differentiation</tspan></text></g>
<g id="y-cellcycle" class="yl"><rect x="1788" y="431" width="28" height="13" rx="2"/><text x="1802" y="437">Cell cycle</text></g>
<g id="y-hif" class="yl"><rect x="1180" y="222" width="28" height="13" rx="2"/><text><tspan x="1193" y="222">HIF-1 signaling</tspan><tspan x="1193" y="232">pathway</tspan></text></g>
<g id="y-leukocyte" class="yl"><rect x="1188" y="307" width="28" height="13" rx="2"/><text><tspan x="1200" y="303">Leukocyte</tspan><tspan x="1200" y="313">transendothelial</tspan><tspan x="1200" y="323">migration</tspan></text></g>
<g id="y-vegf" class="yl"><rect x="1188" y="402" width="28" height="13" rx="2"/><text><tspan x="1202" y="403">VEGF signaling</tspan><tspan x="1202" y="413">pathway</tspan></text></g>

<g id="h-metabolism" class="hub"><rect x="1433" y="43" width="82" height="36" rx="4"/><text x="1474" y="61">metabolism</text></g>
<g id="h-vascular" class="hub"><rect x="1050" y="289" width="82" height="36" rx="4"/><text><tspan x="1089" y="278">Vascular</tspan><tspan x="1089" y="298">endothelial</tspan><tspan x="1089" y="317">function</tspan><tspan x="1089" y="337">regulation</tspan></text></g>
<g id="h-cellular" class="hub"><rect x="1873" y="322" width="82" height="36" rx="4"/><text><tspan x="1912" y="330">Cellular</tspan><tspan x="1912" y="350">Processes</tspan></text></g>
<g id="h-inflammatory" class="hub"><rect x="1448" y="748" width="160" height="71" rx="8"/><text style="font-size:21px;fill:#111"><tspan x="1526" y="768">Inflammatory</tspan><tspan x="1526" y="798">response</tspan></text></g>

<g id="p-estrogen" class="pw"><rect x="1438" y="513" width="72" height="36" rx="4"/><text><tspan x="1473" y="515">Estrogen</tspan><tspan x="1473" y="532">signaling</tspan><tspan x="1473" y="549">pathway</tspan></text></g>
<g id="p-prolactin" class="pw"><rect x="1531" y="518" width="72" height="36" rx="4"/><text><tspan x="1566" y="519">Prolactin</tspan><tspan x="1566" y="536">signaling</tspan><tspan x="1566" y="553">pathway</tspan></text></g>
<g id="p-thyroid" class="pw"><rect x="1336" y="548" width="72" height="36" rx="4"/><text><tspan x="1371" y="540">Thyroid</tspan><tspan x="1371" y="557">hormone</tspan><tspan x="1371" y="575">signaling</tspan><tspan x="1371" y="592">pathway</tspan></text></g>
<g id="p-foxo" class="pw"><rect x="1619" y="547" width="72" height="36" rx="4"/><text><tspan x="1653" y="548">FoxO</tspan><tspan x="1653" y="566">signaling</tspan><tspan x="1653" y="583">pathway</tspan></text></g>
<g id="p-fc" class="pw"><rect x="1276" y="597" width="72" height="36" rx="4"/><text><tspan x="1309" y="597">Fc epsilon</tspan><tspan x="1309" y="615">RI signaling</tspan><tspan x="1309" y="632">pathway</tspan></text></g>
<g id="p-progesterone" class="pw"><rect x="1697" y="602" width="72" height="36" rx="4"/><text><tspan x="1731" y="602">Progesterone-mediated</tspan><tspan x="1731" y="620">oocyte</tspan><tspan x="1731" y="637">maturation</tspan></text></g>
<g id="p-jakstat" class="pw"><rect x="1224" y="670" width="72" height="36" rx="4"/><text><tspan x="1258" y="671">Jak-STAT</tspan><tspan x="1258" y="689">signaling</tspan><tspan x="1258" y="706">pathway</tspan></text></g>
<g id="p-tcell" class="pw"><rect x="1744" y="670" width="72" height="36" rx="4"/><text><tspan x="1778" y="662">T cell</tspan><tspan x="1778" y="680">receptor</tspan><tspan x="1778" y="697">signaling</tspan><tspan x="1778" y="714">pathway</tspan></text></g>
<g id="p-tnf" class="pw"><rect x="1202" y="755" width="72" height="36" rx="4"/><text><tspan x="1235" y="756">TNF</tspan><tspan x="1235" y="773">signaling</tspan><tspan x="1235" y="791">pathway</tspan></text></g>
<g id="p-neurotrophin" class="pw"><rect x="1767" y="757" width="72" height="35" rx="4"/><text><tspan x="1801" y="756">Neurotrophin</tspan><tspan x="1801" y="774">signaling</tspan><tspan x="1801" y="791">pathway</tspan></text></g>
<g id="p-trp" class="pw"><rect x="1209" y="843" width="72" height="36" rx="4"/><text><tspan x="1243" y="826">Inflammatory</tspan><tspan x="1243" y="844">mediator</tspan><tspan x="1243" y="861">regulation</tspan><tspan x="1243" y="878">of TRP</tspan><tspan x="1243" y="895">channels</tspan></text></g>
<g id="p-chemokine" class="pw"><rect x="1759" y="843" width="72" height="36" rx="4"/><text><tspan x="1793" y="844">Chemokine</tspan><tspan x="1793" y="861">signaling</tspan><tspan x="1793" y="878">pathway</tspan></text></g>
<g id="p-toll" class="pw"><rect x="1247" y="923" width="72" height="36" rx="4"/><text><tspan x="1281" y="915">Toll-like</tspan><tspan x="1281" y="933">receptor</tspan><tspan x="1281" y="950">signaling</tspan><tspan x="1281" y="968">pathway</tspan></text></g>
<g id="p-mapk" class="pw"><rect x="1722" y="923" width="72" height="36" rx="4"/><text><tspan x="1756" y="924">MAPK</tspan><tspan x="1756" y="941">signaling</tspan><tspan x="1756" y="959">pathway</tspan></text></g>
<g id="p-nfkb" class="pw"><rect x="1310" y="988" width="72" height="36" rx="4"/><text><tspan x="1344" y="989">NF-kappa B</tspan><tspan x="1344" y="1007">signaling</tspan><tspan x="1344" y="1024">pathway</tspan></text></g>
<g id="p-rap1" class="pw"><rect x="1659" y="988" width="72" height="36" rx="4"/><text><tspan x="1692" y="989">Rap1</tspan><tspan x="1692" y="1007">signaling</tspan><tspan x="1692" y="1024">pathway</tspan></text></g>
<g id="p-bcell" class="pw"><rect x="1392" y="1030" width="72" height="36" rx="4"/><text><tspan x="1426" y="1022">B cell</tspan><tspan x="1426" y="1039">receptor</tspan><tspan x="1426" y="1057">signaling</tspan><tspan x="1426" y="1074">pathway</tspan></text></g>
<g id="p-ras" class="pw"><rect x="1576" y="1030" width="72" height="36" rx="4"/><text><tspan x="1610" y="1030">Ras</tspan><tspan x="1610" y="1048">signaling</tspan><tspan x="1610" y="1065">pathway</tspan></text></g>
<g id="p-pi3k" class="pw"><rect x="1484" y="1044" width="72" height="36" rx="4"/><text><tspan x="1518" y="1046">PI3K-Akt</tspan><tspan x="1518" y="1063">signaling</tspan><tspan x="1518" y="1080">pathway</tspan></text></g>
</svg>
